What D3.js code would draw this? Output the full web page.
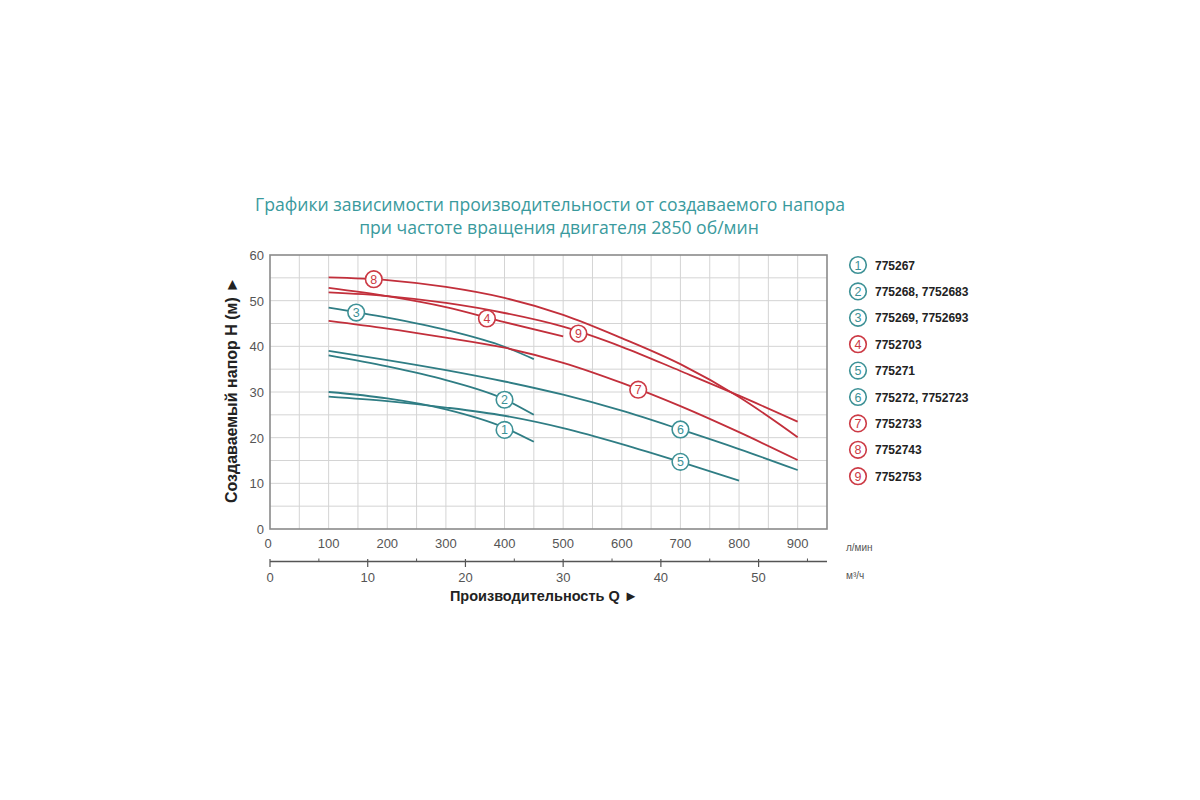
<!DOCTYPE html>
<html>
<head>
<meta charset="utf-8">
<script src="https://cdn.jsdelivr.net/npm/d3@7"></script>
<style>
  body { margin: 0; background: #fff; }
  svg { display: block; }
</style>
</head>
<body>
<div id="chart"></div>
<script>
// head (m) against flow (l/min)
const curve1 = [[100, 30.0], [200, 28.6], [300, 26.2], [400, 22.2], [450, 19.1]];
const curve2 = [[100, 38.0], [200, 35.6], [300, 32.6], [400, 28.4], [450, 25.0]];
const curve3 = [[100, 48.5], [200, 46.3], [300, 43.6], [400, 39.9], [450, 37.2]];
const curve4 = [[100, 52.8], [200, 51.0], [300, 48.6], [400, 45.3], [500, 42.2]];
const curve5 = [[100, 29.0], [200, 28.0], [300, 26.6], [400, 24.8], [500, 22.1], [600, 18.6], [700, 14.7], [800, 10.6]];
const curve6 = [[100, 39.0], [200, 37.0], [300, 34.8], [400, 32.3], [500, 29.4], [600, 25.9], [700, 21.8], [800, 17.5], [900, 12.9]];
const curve7 = [[100, 45.6], [200, 43.9], [300, 41.9], [400, 39.7], [500, 36.4], [600, 32.0], [700, 26.9], [800, 21.2], [900, 15.1]];
const curve8 = [[100, 55.1], [200, 54.5], [300, 53.0], [400, 50.6], [500, 46.9], [600, 41.8], [700, 36.1], [800, 28.9], [900, 20.1]];
const curve9 = [[100, 51.8], [200, 51.0], [300, 49.5], [400, 47.3], [500, 44.3], [600, 39.9], [700, 34.6], [800, 29.2], [900, 23.5]];

const curves = [curve1, curve2, curve3, curve4, curve5, curve6, curve7, curve8, curve9];
const curveGroup = ["teal", "teal", "teal", "red", "teal", "teal", "red", "red", "red"];
const models = ["775267", "775268, 7752683", "775269, 7752693", "7752703", "775271",
  "775272, 7752723", "7752733", "7752743", "7752753"];

// where the numbered circles sit on the curves
const labelQ = [400, 400, 147, 370, 700, 700, 628, 177, 526];
const labelH = [21.7, 28.3, 47.4, 46.1, 14.7, 21.8, 30.5, 54.7, 42.8];

const flowTicks = [100, 200, 300, 400, 500, 600, 700, 800, 900];
const m3Ticks = [0, 10, 20, 30, 40, 50];
const headTicks = [0, 10, 20, 30, 40, 50, 60];

const lineColor = { teal: "#2f7d84", red: "#c22f3b" };
const markColor = { teal: "#3d9196", red: "#cc3a45" };

const svg = d3.select("#chart").append("svg")
  .attr("width", 1200)
  .attr("height", 800)
  .style("font-family", "'Liberation Sans', Arial, sans-serif");

const x = d3.scaleLinear().domain([0, 950]).range([270, 827]);
const x2 = d3.scaleLinear().domain([0, 950 * 0.06]).range([270, 827]); // m3/h
const y = d3.scaleLinear().domain([0, 60]).range([529, 255]);

// title
const title = svg.append("g")
  .style("font-family", "'Open Sans', 'Noto Sans', sans-serif")
  .style("font-size", "17.6px")
  .attr("fill", "#3a9a9d")
  .attr("text-anchor", "middle");
title.append("text").attr("x", 550).attr("y", 211)
  .text("Графики зависимости производительности от создаваемого напора");
title.append("text").attr("x", 559).attr("y", 234)
  .text("при частоте вращения двигателя 2850 об/мин");

// grid
const grid = svg.append("g").attr("stroke", "#d4d4d4").attr("stroke-width", 1);
grid.selectAll(".v").data(d3.range(50, 950, 50)).join("line")
  .attr("x1", d => x(d)).attr("x2", d => x(d))
  .attr("y1", y(0)).attr("y2", y(60));
grid.selectAll(".h").data(d3.range(5, 60, 5)).join("line")
  .attr("x1", x(0)).attr("x2", x(950))
  .attr("y1", d => y(d)).attr("y2", d => y(d));

svg.append("rect")
  .attr("x", x(0)).attr("y", y(60))
  .attr("width", x(950) - x(0)).attr("height", y(0) - y(60))
  .attr("fill", "none").attr("stroke", "#8a8a8a").attr("stroke-width", 1.6);

// y axis labels
svg.append("g").selectAll("text").data(headTicks).join("text")
  .attr("x", 264).attr("y", d => y(d) + 5)
  .attr("text-anchor", "end")
  .attr("fill", "#555").style("font-size", "13px")
  .text(d => d);

// flow axis labels (l/min)
svg.append("g").selectAll("text").data([0].concat(flowTicks)).join("text")
  .attr("x", d => d === 0 ? x(0) - 2 : x(d))
  .attr("y", 548)
  .attr("text-anchor", "middle")
  .attr("fill", "#555").style("font-size", "13px")
  .text(d => d);

// second axis in m3/h
const axis2 = svg.append("g").attr("stroke", "#555");
axis2.append("line")
  .attr("x1", x2(0)).attr("x2", x(950))
  .attr("y1", 561.5).attr("y2", 561.5).attr("stroke-width", 1.6);
axis2.selectAll(".minor").data(d3.range(5, 57, 10)).join("line")
  .attr("x1", d => x2(d)).attr("x2", d => x2(d))
  .attr("y1", 558.5).attr("y2", 562);
axis2.selectAll(".major").data(m3Ticks).join("line")
  .attr("x1", d => x2(d)).attr("x2", d => x2(d))
  .attr("y1", 559).attr("y2", 567).attr("stroke-width", 1.2);
svg.append("g").selectAll("text").data(m3Ticks).join("text")
  .attr("x", d => x2(d)).attr("y", 582)
  .attr("text-anchor", "middle")
  .attr("fill", "#555").style("font-size", "13px")
  .text(d => d);

svg.append("text").attr("x", 846).attr("y", 551)
  .attr("fill", "#555").style("font-size", "10px").text("л/мин");
svg.append("text").attr("x", 846).attr("y", 579)
  .attr("fill", "#555").style("font-size", "10px").text("м³/ч");

// axis titles
svg.append("text")
  .attr("transform", "translate(237, 390) rotate(-90)")
  .attr("text-anchor", "middle")
  .attr("fill", "#222").style("font-size", "16px").style("font-weight", "bold")
  .text("Создаваемый напор H (м) ►");
svg.append("text")
  .attr("x", 544).attr("y", 601)
  .attr("text-anchor", "middle")
  .attr("fill", "#222").style("font-size", "14.5px").style("font-weight", "bold")
  .text("Производительность Q ►");

// curves
const line = d3.line()
  .x(d => x(d[0]))
  .y(d => y(d[1]))
  .curve(d3.curveMonotoneX);

svg.append("g").selectAll("path").data(curves).join("path")
  .attr("d", line)
  .attr("fill", "none")
  .attr("stroke", (d, i) => lineColor[curveGroup[i]])
  .attr("stroke-width", 1.8);

// numbered markers on the curves
function marker(g, cx, cy, n, grp) {
  g.append("circle").attr("cx", cx).attr("cy", cy).attr("r", 8.3)
    .attr("fill", "#fff").attr("stroke", markColor[grp]).attr("stroke-width", 1.6);
  g.append("text").attr("x", cx).attr("y", cy + 4.5)
    .attr("text-anchor", "middle")
    .attr("fill", markColor[grp]).style("font-size", "12.5px")
    .text(n);
}

const marks = svg.append("g");
curves.forEach((c, i) => {
  marker(marks, x(labelQ[i]), y(labelH[i]), i + 1, curveGroup[i]);
});

// legend
const legend = svg.append("g");
models.forEach((m, i) => {
  const cy = 265 + i * 26.4;
  marker(legend, 858, cy, i + 1, curveGroup[i]);
  legend.append("text").attr("x", 875).attr("y", cy + 4.5)
    .attr("fill", "#222").style("font-size", "12px").style("font-weight", "bold")
    .text(m);
});
</script>
</body>
</html>
